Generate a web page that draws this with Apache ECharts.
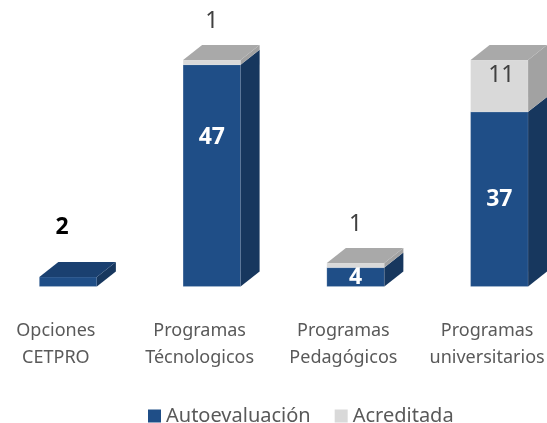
<!DOCTYPE html>
<html>
<head>
<meta charset="utf-8">
<script src="https://cdn.jsdelivr.net/npm/echarts@6/dist/echarts.min.js"></script>
<style>
html, body { margin: 0; background: #fff; }
#chart { width: 547px; height: 423px; }
</style>
</head>
<body>
<div id="chart"></div>
<script>
var categories = ['Opciones\nCETPRO', 'Programas\nTécnologicos', 'Programas\nPedagógicos', 'Programas\nuniversitarios'];
var autoevaluacion = [2, 47, 4, 37];
var acreditada = [0, 1, 1, 11];

var FONT = '"Noto Sans", "Open Sans", sans-serif';
var DX = 19, DY = 15;
var faces = {
	auto: {front: '#1f4e87', side: '#17375e', top: '#1a4070', text: '#ffffff', outText: '#000000', weight: 'bold'},
	acred: {front: '#d9d9d9', side: '#a2a2a2', top: '#a9a9a9', text: '#404040', outText: '#404040', weight: 'normal'}
};
// small nudges of a few labels, like the original
var labelShift = {
	'auto-0': [-6, -12],
	'auto-1': [0, -38],
	'acred-3': [2, -10]
};

function make_render(key, isTop) {
	var c = faces[key];
	return function (params, api) {
		var idx = api.value(0);
		var lo = api.value(1), hi = api.value(2);
		if (hi <= lo) return null;
		var p0 = api.coord([idx, lo]);
		var p1 = api.coord([idx, hi]);
		var band = api.size([1, 0])[0];
		var w = band * 0.4;
		var x0 = p0[0] + band * 0.085 - w / 2;
		var x1 = x0 + w;
		var yb = p0[1], yt = p1[1];
		var children = [
			{type: 'rect', shape: {x: x0, y: yt, width: w, height: yb - yt},
				style: {fill: c.front, stroke: 'rgba(255,255,255,0.25)', lineWidth: 0.6}},
			{type: 'polygon', shape: {points: [[x1, yb], [x1 + DX, yb - DY], [x1 + DX, yt - DY], [x1, yt]]},
				style: {fill: c.side}}
		];
		if (isTop(idx)) {
			children.push({type: 'polygon',
				shape: {points: [[x0, yt], [x0 + DX, yt - DY], [x1 + DX, yt - DY], [x1, yt]]},
				style: {fill: c.top}});
		}
		var val = hi - lo;
		var sh = labelShift[key + '-' + idx] || [0, 0];
		var inside = yb - yt >= 15;
		children.push({type: 'text', style: {
			text: String(val),
			x: (x0 + x1) / 2 + sh[0],
			y: (inside ? (yt + yb) / 2 : yt - 38) + sh[1],
			fill: inside ? c.text : c.outText,
			fontSize: 23, fontWeight: c.weight, fontFamily: FONT,
			align: 'center', verticalAlign: 'middle'}});
		return {type: 'group', children: children};
	};
}

var autoData = [], acredData = [];
for (var i = 0; i < categories.length; i++) {
	autoData.push([i, 0, autoevaluacion[i]]);
	acredData.push([i, autoevaluacion[i], autoevaluacion[i] + acreditada[i]]);
}

var chart = echarts.init(document.getElementById('chart'));
chart.setOption({
	animation: false,
	grid: {left: -16, width: 575, top: 50.5, bottom: 136.5, outerBoundsMode: 'none'},
	legend: {
		left: 143, top: 401,
		icon: 'rect', itemWidth: 13, itemHeight: 13, itemGap: 24,
		textStyle: {color: '#595959', fontSize: 20, fontFamily: FONT},
		data: [
			{name: 'Autoevaluación', itemStyle: {color: faces.auto.front}},
			{name: 'Acreditada', itemStyle: {color: faces.acred.front}}
		]
	},
	xAxis: {
		type: 'category',
		data: categories,
		axisLine: {show: false},
		axisTick: {show: false},
		axisLabel: {interval: 0, color: '#595959', fontSize: 18, lineHeight: 27, margin: 31, fontFamily: FONT}
	},
	yAxis: {type: 'value', min: 0, max: 50, show: false, splitLine: {show: false}},
	series: [
		{
			name: 'Autoevaluación', type: 'custom',
			itemStyle: {color: faces.auto.front},
			renderItem: make_render('auto', function (i) { return acreditada[i] === 0; }),
			encode: {x: 0, y: [1, 2]},
			data: autoData
		},
		{
			name: 'Acreditada', type: 'custom',
			itemStyle: {color: faces.acred.front},
			renderItem: make_render('acred', function () { return true; }),
			encode: {x: 0, y: [1, 2]},
			data: acredData
		}
	]
});
</script>
</body>
</html>
